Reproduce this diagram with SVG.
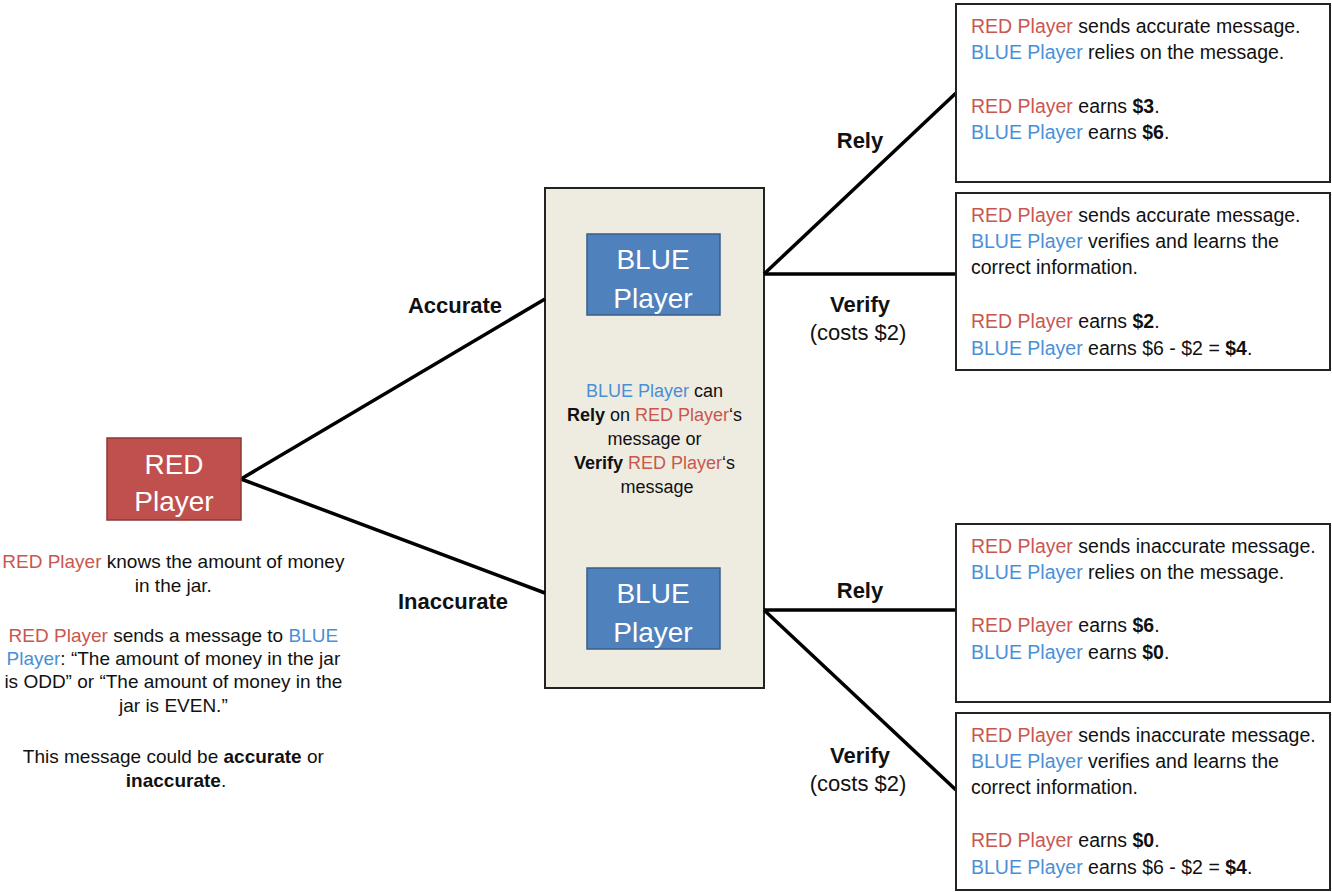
<svg xmlns="http://www.w3.org/2000/svg" width="1332" height="892" viewBox="0 0 1332 892">
  <style>
    text { font-family: "Liberation Sans", Arial, sans-serif; fill: #111; }
    .body { font-size: 18px; }
    .side { font-size: 19px; }
    .out { font-size: 19.5px; }
    .lbl { font-size: 22px; font-weight: bold; }
    .cost { font-size: 22px; }
    .b { font-weight: bold; }
    .r { fill: #C9574F; }
    .u { fill: #4A8FD6; }
    .node-text { font-size: 28px; fill: #fff; }
    .edge { stroke: #000; stroke-width: 3.5; fill: none; }
    .outcome { fill: #fff; stroke: #222; stroke-width: 2; }
  </style>

  <rect width="1332" height="892" fill="#fff"/>

  <!-- decision panel behind the BLUE player nodes -->
  <g id="blue-panel">
    <rect x="545" y="188" width="219" height="500" fill="#EEECE1" stroke="#222" stroke-width="2"/>
    <text class="body" text-anchor="middle">
      <tspan x="657" y="397"><tspan class="u">BLUE Player</tspan> can</tspan>
      <tspan x="657" y="421"><tspan class="b">Rely</tspan> on <tspan class="r">RED Player</tspan>‘s</tspan>
      <tspan x="657" y="445">message or</tspan>
      <tspan x="657" y="469"><tspan class="b">Verify</tspan> <tspan class="r">RED Player</tspan>‘s</tspan>
      <tspan x="657" y="493">message</tspan>
    </text>
  </g>

  <!-- connectors -->
  <g id="connectors">
    <line class="edge" x1="241" y1="479" x2="545" y2="299"/>
    <line class="edge" x1="241" y1="479" x2="545" y2="593"/>
    <line class="edge" x1="764" y1="274" x2="956" y2="93"/>
    <line class="edge" x1="764" y1="274" x2="956" y2="274"/>
    <line class="edge" x1="764" y1="610" x2="956" y2="610"/>
    <line class="edge" x1="764" y1="610" x2="956" y2="790"/>
    <text class="lbl" x="455" y="313" text-anchor="middle">Accurate</text>
    <text class="lbl" x="453" y="609" text-anchor="middle">Inaccurate</text>
    <text class="lbl" x="860" y="148" text-anchor="middle">Rely</text>
    <text class="lbl" x="860" y="312" text-anchor="middle">Verify</text>
    <text class="cost" x="858" y="340" text-anchor="middle">(costs $2)</text>
    <text class="lbl" x="860" y="598" text-anchor="middle">Rely</text>
    <text class="lbl" x="860" y="763" text-anchor="middle">Verify</text>
    <text class="cost" x="858" y="791" text-anchor="middle">(costs $2)</text>
  </g>

  <!-- RED player -->
  <g id="red-player">
    <rect x="107" y="438" width="134" height="82" fill="#C0504D" stroke="#8C3836" stroke-width="1.5"/>
    <text class="node-text" x="174" y="474" text-anchor="middle">RED</text>
    <text class="node-text" x="174" y="511" text-anchor="middle">Player</text>
  </g>

  <g id="red-description">
    <text class="side" text-anchor="middle">
      <tspan x="176" y="568"><tspan class="r">RED Player</tspan> knows the amount of money</tspan>
      <tspan x="176" y="592">in the jar.</tspan>
      <tspan x="176" y="642"><tspan class="r">RED Player</tspan> sends a message to <tspan class="u">BLUE</tspan></tspan>
      <tspan x="176" y="665"><tspan class="u">Player</tspan>: “The amount of money in the jar</tspan>
      <tspan x="176" y="688">is ODD” or “The amount of money in the</tspan>
      <tspan x="176" y="712">jar is EVEN.”</tspan>
      <tspan x="176" y="763">This message could be <tspan class="b">accurate</tspan> or</tspan>
      <tspan x="176" y="787"><tspan class="b">inaccurate</tspan>.</tspan>
    </text>
  </g>

  <!-- BLUE player, accurate branch -->
  <g id="blue-player-accurate">
    <rect x="587" y="234" width="133" height="81" fill="#4F81BD" stroke="#385D8A" stroke-width="1.5"/>
    <text class="node-text" x="653" y="269" text-anchor="middle">BLUE</text>
    <text class="node-text" x="653" y="308" text-anchor="middle">Player</text>
  </g>

  <!-- BLUE player, inaccurate branch -->
  <g id="blue-player-inaccurate">
    <rect x="587" y="568" width="133" height="81" fill="#4F81BD" stroke="#385D8A" stroke-width="1.5"/>
    <text class="node-text" x="653" y="603" text-anchor="middle">BLUE</text>
    <text class="node-text" x="653" y="642" text-anchor="middle">Player</text>
  </g>

  <!-- outcomes -->
  <g id="outcome-accurate-rely">
    <rect class="outcome" x="956" y="4" width="374" height="178"/>
    <text class="out">
      <tspan x="971" y="33"><tspan class="r">RED Player</tspan> sends accurate message.</tspan>
      <tspan x="971" y="59"><tspan class="u">BLUE Player</tspan> relies on the message.</tspan>
      <tspan x="971" y="113"><tspan class="r">RED Player</tspan> earns <tspan class="b">$3</tspan>.</tspan>
      <tspan x="971" y="139"><tspan class="u">BLUE Player</tspan> earns <tspan class="b">$6</tspan>.</tspan>
    </text>
  </g>

  <g id="outcome-accurate-verify">
    <rect class="outcome" x="956" y="193" width="374" height="177"/>
    <text class="out">
      <tspan x="971" y="222"><tspan class="r">RED Player</tspan> sends accurate message.</tspan>
      <tspan x="971" y="248"><tspan class="u">BLUE Player</tspan> verifies and learns the</tspan>
      <tspan x="971" y="274">correct information.</tspan>
      <tspan x="971" y="328"><tspan class="r">RED Player</tspan> earns <tspan class="b">$2</tspan>.</tspan>
      <tspan x="971" y="355"><tspan class="u">BLUE Player</tspan> earns $6 - $2 = <tspan class="b">$4</tspan>.</tspan>
    </text>
  </g>

  <g id="outcome-inaccurate-rely">
    <rect class="outcome" x="956" y="524" width="374" height="178"/>
    <text class="out">
      <tspan x="971" y="553"><tspan class="r">RED Player</tspan> sends inaccurate message.</tspan>
      <tspan x="971" y="579"><tspan class="u">BLUE Player</tspan> relies on the message.</tspan>
      <tspan x="971" y="632"><tspan class="r">RED Player</tspan> earns <tspan class="b">$6</tspan>.</tspan>
      <tspan x="971" y="659"><tspan class="u">BLUE Player</tspan> earns <tspan class="b">$0</tspan>.</tspan>
    </text>
  </g>

  <g id="outcome-inaccurate-verify">
    <rect class="outcome" x="956" y="713" width="374" height="177"/>
    <text class="out">
      <tspan x="971" y="742"><tspan class="r">RED Player</tspan> sends inaccurate message.</tspan>
      <tspan x="971" y="768"><tspan class="u">BLUE Player</tspan> verifies and learns the</tspan>
      <tspan x="971" y="794">correct information.</tspan>
      <tspan x="971" y="847"><tspan class="r">RED Player</tspan> earns <tspan class="b">$0</tspan>.</tspan>
      <tspan x="971" y="874"><tspan class="u">BLUE Player</tspan> earns $6 - $2 = <tspan class="b">$4</tspan>.</tspan>
    </text>
  </g>
</svg>
